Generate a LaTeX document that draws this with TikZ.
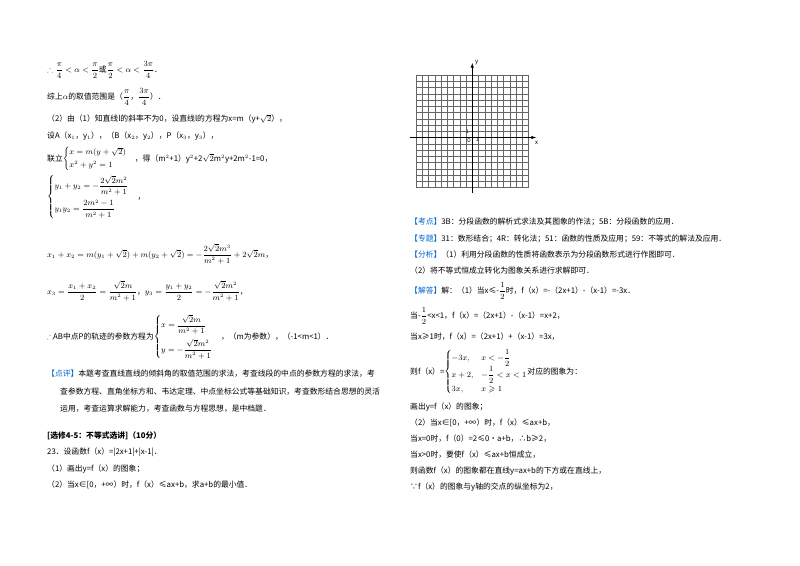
\documentclass[tikz,border=0pt]{standalone}
\usepackage{amsmath,amssymb}
\usepackage{fontspec}
\setmainfont{Noto Sans CJK SC}
\definecolor{tagblue}{RGB}{0,102,204}
\newcommand{\tg}[1]{\textcolor{tagblue}{【#1】}}
\begin{document}
\begin{tikzpicture}[x=1pt,y=-1pt,
  every node/.style={anchor=west,inner sep=0pt,font=\fontsize{7.8}{9}\selectfont},
  gridl/.style={draw=black!60,line width=0.45pt}]
\useasboundingbox[fill=white] (0,0) rectangle (800,565);
% left column
\node (l1) at (47,70) {$\therefore\dfrac{\pi}{4}<\alpha<\dfrac{\pi}{2}$或$\dfrac{\pi}{2}<\alpha<\dfrac{3\pi}{4}$．};
\node (l2) at (47,97) {综上$\alpha$的取值范围是（$\dfrac{\pi}{4}$，$\dfrac{3\pi}{4}$）．};
\node (l3) at (47,119) {（2）由（1）知直线l的斜率不为0，设直线l的方程为x=m（y+$\sqrt{2}$），};
\node (l4) at (47,136) {设A（x$_1$，y$_1$），（B（x$_2$，y$_2$），P（x$_3$，y$_3$），};
\node (l5) at (47,159) {联立$\begin{cases}x=m(y+\sqrt{2})\\[2pt]x^2+y^2=1\end{cases}$，得（m$^2$+1）y$^2$+2$\sqrt{2}$m$^2$y+2m$^2$-1=0，};
\node (l6) at (47,197) {$\begin{cases}y_1+y_2=-\dfrac{2\sqrt{2}m^2}{m^2+1}\\[8pt] y_1y_2=\dfrac{2m^2-1}{m^2+1}\end{cases}$，};
\node (l7) at (47,254) {$x_1+x_2=m(y_1+\sqrt{2})+m(y_2+\sqrt{2})=-\dfrac{2\sqrt{2}m^3}{m^2+1}+2\sqrt{2}m$，};
\node (l8) at (47,291) {$x_3=\dfrac{x_1+x_2}{2}=\dfrac{\sqrt{2}m}{m^2+1}$，$y_3=\dfrac{y_1+y_2}{2}=-\dfrac{\sqrt{2}m^2}{m^2+1}$，};
\node (l9) at (47,337) {$\therefore$AB中点P的轨迹的参数方程为$\begin{cases}x=\dfrac{\sqrt{2}m}{m^2+1}\\[8pt] y=-\dfrac{\sqrt{2}m^2}{m^2+1}\end{cases}$，（m为参数），（-1<m<1）．};
\node (l10) at (47,374) {\tg{点评}本题考查直线直线的倾斜角的取值范围的求法，考查线段的中点的参数方程的求法，考};
\node (l11) at (60,392) {查参数方程、直角坐标方和、韦达定理、中点坐标公式等基础知识，考查数形结合思想的灵活};
\node (l12) at (60,409) {运用，考查运算求解能力，考查函数与方程思想，是中档题．};
\node[font=\fontsize{7.8}{9}\selectfont\bfseries] (l13) at (47,436) {[选修4-5：不等式选讲]（10分）};
\node (l14) at (47,452) {23．设函数f（x）=|2x+1|+|x-1|．};
\node (l15) at (47,469) {（1）画出y=f（x）的图象；};
\node (l16) at (47,485) {（2）当x∈[0，+∞）时，f（x）≤ax+b，求a+b的最小值．};
% grid
\foreach \i in {0,...,18} {
  \draw[gridl] (416+\i*6.25,75) -- (416+\i*6.25,187.5);
  \draw[gridl] (416,75+\i*6.25) -- (528.5,75+\i*6.25);
}
\coordinate (xs) at (410,137.5); \coordinate (xe) at (536,137.5);
\coordinate (ys) at (472.25,193); \coordinate (ye) at (472.25,63);
\draw[line width=0.6pt,-latex] (xs) -- (xe);
\draw[line width=0.6pt,-latex] (ys) -- (ye);
\node[font=\fontsize{6}{6}\selectfont\itshape] (ylab) at (475,63) {y};
\node[font=\fontsize{6}{6}\selectfont\itshape] (xlab) at (535,143) {x};
\node[font=\fontsize{5}{5}\selectfont] (one1) at (466,132) {1};
\node[font=\fontsize{5}{5}\selectfont\itshape] (olab) at (467,141) {O};
\node[font=\fontsize{5}{5}\selectfont] (one2) at (476,140) {1};
% right column
\node (r1) at (410,222) {\tg{考点}3B：分段函数的解析式求法及其图象的作法；5B：分段函数的应用．};
\node (r2) at (410,239) {\tg{专题}31：数形结合；4R：转化法；51：函数的性质及应用；59：不等式的解法及应用．};
\node (r3) at (410,255) {\tg{分析}（1）利用分段函数的性质将函数表示为分段函数形式进行作图即可．};
\node (r4) at (410,271) {（2）将不等式恒成立转化为图象关系进行求解即可．};
\node (r5) at (410,291) {\tg{解答}解：（1）当x≤-$\dfrac{1}{2}$时，f（x）=-（2x+1）-（x-1）=-3x．};
\node (r6) at (410,316) {当-$\dfrac{1}{2}$<x<1，f（x）=（2x+1）-（x-1）=x+2，};
\node (r7) at (410,337) {当x≥1时，f（x）=（2x+1）+（x-1）=3x，};
\node (r8) at (410,372) {则f（x）=$\begin{cases}-3x, & x<-\dfrac{1}{2}\\[3pt] x+2, & -\dfrac{1}{2}<x<1\\[3pt] 3x, & x\geqslant 1\end{cases}$对应的图象为：};
\node (r9) at (410,407) {画出y=f（x）的图象；};
\node (r10) at (410,423) {（2）当x∈[0，+∞）时，f（x）≤ax+b，};
\node (r11) at (410,439) {当x=0时，f（0）=2≤0•a+b，∴b≥2，};
\node (r12) at (410,455) {当x>0时，要使f（x）≤ax+b恒成立，};
\node (r13) at (410,471) {则函数f（x）的图象都在直线y=ax+b的下方或在直线上，};
\node (r14) at (410,487) {∵f（x）的图象与y轴的交点的纵坐标为2，};
\end{tikzpicture}
\end{document}
